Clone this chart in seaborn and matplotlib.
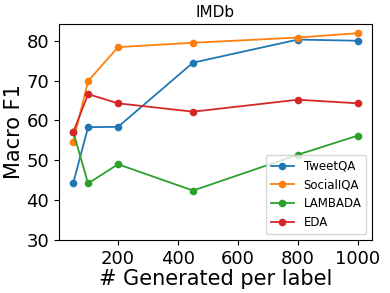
import numpy as np
import pandas as pd
import matplotlib
matplotlib.use('Agg')
import matplotlib.pyplot as plt
import seaborn as sns

n_gen = [50, 100, 200, 450, 800, 1000]
tweetqa = [44.2, 58.3, 58.4, 74.5, 80.3, 80.0]
socialiqa = [54.6, 69.9, 78.4, 79.5, 80.8, 81.9]
lambada = [57.2, 44.2, 49.0, 42.4, 51.4, 56.2]
eda = [57.0, 66.6, 64.3, 62.2, 65.2, 64.3]
methods = ['TweetQA', 'SocialIQA', 'LAMBADA', 'EDA']

df = pd.DataFrame({
    'n': n_gen * 4,
    'f1': tweetqa + socialiqa + lambada + eda,
    'method': [m for m in methods for _ in n_gen],
})

fig = plt.figure(figsize=(3.9, 2.93), dpi=100)
ax = fig.add_axes([0.151, 0.181, 0.803, 0.737])
sns.lineplot(data=df, x='n', y='f1', hue='method', hue_order=methods,
             palette=sns.color_palette('tab10', 4), marker='o',
             markersize=5.5, markeredgewidth=0, linewidth=1.3, ax=ax)

ax.set_ylim(30, 84.2)
ax.set_xticks([200, 400, 600, 800, 1000])
ax.set_yticks([30, 40, 50, 60, 70, 80])
ax.tick_params(labelsize=13)
ax.set_xlabel('# Generated per label', fontsize=15, labelpad=1)
ax.set_ylabel('Macro F1', fontsize=15, labelpad=2)
ax.set_title('IMDb', fontsize=11, pad=5)
ax.legend(loc='lower right', fontsize=8.5, title=None)

fig.savefig('out.png', dpi=100)
